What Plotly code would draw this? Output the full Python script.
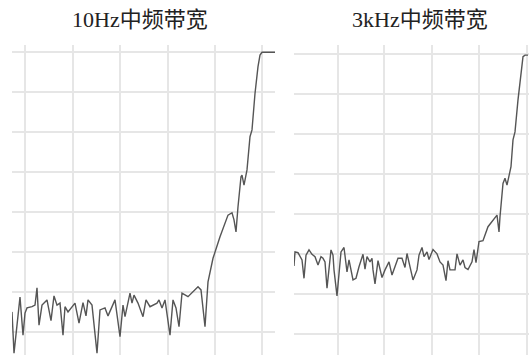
import plotly.graph_objects as go

W, H = 529, 355

# ---- data (frequency bins, level in dB) ----
titles = ["10Hz中频带宽", "3kHz中频带宽"]

bins_10hz = [0, 2, 8, 11, 13, 15, 20, 23, 25, 27, 30, 35, 39, 42, 45, 48, 51, 53, 56, 63,
             67, 71, 74, 76, 80, 85, 88, 93, 96, 103, 108, 111, 113, 118, 120, 122, 126, 131,
             134, 138, 145, 147, 150, 153, 158, 161, 164, 167, 170, 176, 186, 189, 193, 196,
             201, 208, 216, 220, 222, 224, 226, 229, 230, 232, 235, 238, 240, 241, 243, 246,
             248, 250, 263]
level_10hz = [-64.9, -75.2, -61.2, -70.7, -65.2, -63.9, -63.6, -63.2, -58.9, -68.2, -63.2,
              -61.9, -67.1, -60.9, -63.2, -62.7, -70.7, -63.6, -64.9, -62.7, -67.7, -62.6,
              -65.9, -61.9, -63.2, -75.2, -64.4, -63.9, -65.9, -61.9, -71.1, -63.2, -66.1,
              -60.2, -62.7, -60.7, -62.7, -66.1, -61.9, -63.6, -62.7, -61.9, -63.9, -61.9,
              -70.7, -61.9, -63.9, -68.6, -60.2, -61.1, -58.6, -59.4, -68.6, -57.4, -51.5,
              -46.1, -40.7, -40.1, -41.9, -44.9, -38.6, -31.1, -30.7, -33.2, -29.4, -21.1,
              -19.4, -16.1, -10.3, -3.6, -0.7, 0.0, 0.0]

bins_3khz = [0, 1, 4, 8, 10, 12, 15, 18, 21, 24, 27, 29, 31, 33, 37, 39, 40, 43, 47, 50, 53,
             55, 59, 62, 65, 69, 71, 73, 76, 78, 79, 81, 84, 88, 91, 95, 98, 101, 104, 108,
             111, 113, 116, 119, 123, 125, 128, 130, 133, 135, 139, 143, 146, 149, 152, 154,
             156, 161, 163, 166, 169, 171, 174, 178, 180, 182, 185, 189, 194, 198, 203, 205,
             206, 209, 211, 213, 217, 219, 221, 224, 227, 229, 231, 234]
level_3khz = [-53.1, -49.6, -49.8, -51.6, -56.2, -50.4, -49.1, -50.2, -50.8, -52.9, -50.8,
              -51.2, -52.1, -58.7, -49.1, -50.4, -54.1, -60.6, -49.6, -48.5, -54.6, -51.6,
              -56.6, -56.2, -53.3, -50.2, -53.9, -50.8, -52.1, -51.2, -54.1, -57.6, -51.8,
              -56.0, -54.1, -52.1, -55.4, -53.3, -51.2, -51.2, -53.5, -50.0, -53.7, -56.6,
              -54.1, -50.4, -48.5, -50.8, -49.6, -51.5, -49.0, -50.1, -52.1, -52.9, -56.8,
              -51.8, -54.1, -54.1, -50.1, -52.9, -51.6, -53.5, -54.0, -52.1, -49.0, -52.3,
              -47.0, -46.8, -43.3, -42.0, -40.4, -44.6, -40.8, -32.5, -31.2, -32.9, -28.3,
              -21.6, -19.6, -11.6, -5.0, -0.8, -0.4, -0.4]

x_grid_10hz = [13, 60.7, 108, 155.7, 203, 250.3]
x_grid_3khz = [43.7, 90.3, 137.7, 185, 232.7]
y_grid = [0, -10, -20, -30, -40, -50, -60, -70]

x_range_10hz = [0, 263]
x_range_3khz = [0, 235]
y_range_10hz = [-75.675, 1.825]
y_range_3khz = [-75.375, 2.125]

fig = go.Figure()
line_style = dict(color="#555555", width=1.4)
fig.add_trace(go.Scatter(x=bins_10hz, y=level_10hz, mode="lines", line=line_style,
                         xaxis="x", yaxis="y", showlegend=False, hoverinfo="skip"))
fig.add_trace(go.Scatter(x=bins_3khz, y=level_3khz, mode="lines", line=line_style,
                         xaxis="x2", yaxis="y2", showlegend=False, hoverinfo="skip"))

grid = dict(showgrid=True, gridcolor="#e6e6e6", gridwidth=2, zeroline=False,
            showticklabels=False, ticks="", showline=False, tickmode="array", fixedrange=True)
ydom = [0, 310 / H]
fig.update_layout(
    width=W, height=H,
    margin=dict(l=0, r=0, t=0, b=0),
    paper_bgcolor="white", plot_bgcolor="white",
    xaxis=dict(domain=[12 / W, 275 / W], range=x_range_10hz, tickvals=x_grid_10hz, **grid),
    yaxis=dict(domain=ydom, range=y_range_10hz, tickvals=y_grid, anchor="x", **grid),
    xaxis2=dict(domain=[294 / W, 1.0], range=x_range_3khz, tickvals=x_grid_3khz, anchor="y2", **grid),
    yaxis2=dict(domain=ydom, range=y_range_3khz, tickvals=y_grid, anchor="x2", **grid),
)

title_font = dict(family="Liberation Serif, Noto Sans CJK SC", size=22, color="#222222")
for txt, cx in zip(titles, [139.5, 420]):
    fig.add_annotation(text=txt, x=cx / W, y=1 - 19 / H, xref="paper", yref="paper",
                       xanchor="center", yanchor="middle", showarrow=False, font=title_font)

fig.write_html("out.html", config={"displayModeBar": False},
               post_script="document.body.style.margin='0';document.body.style.overflow='hidden';")
